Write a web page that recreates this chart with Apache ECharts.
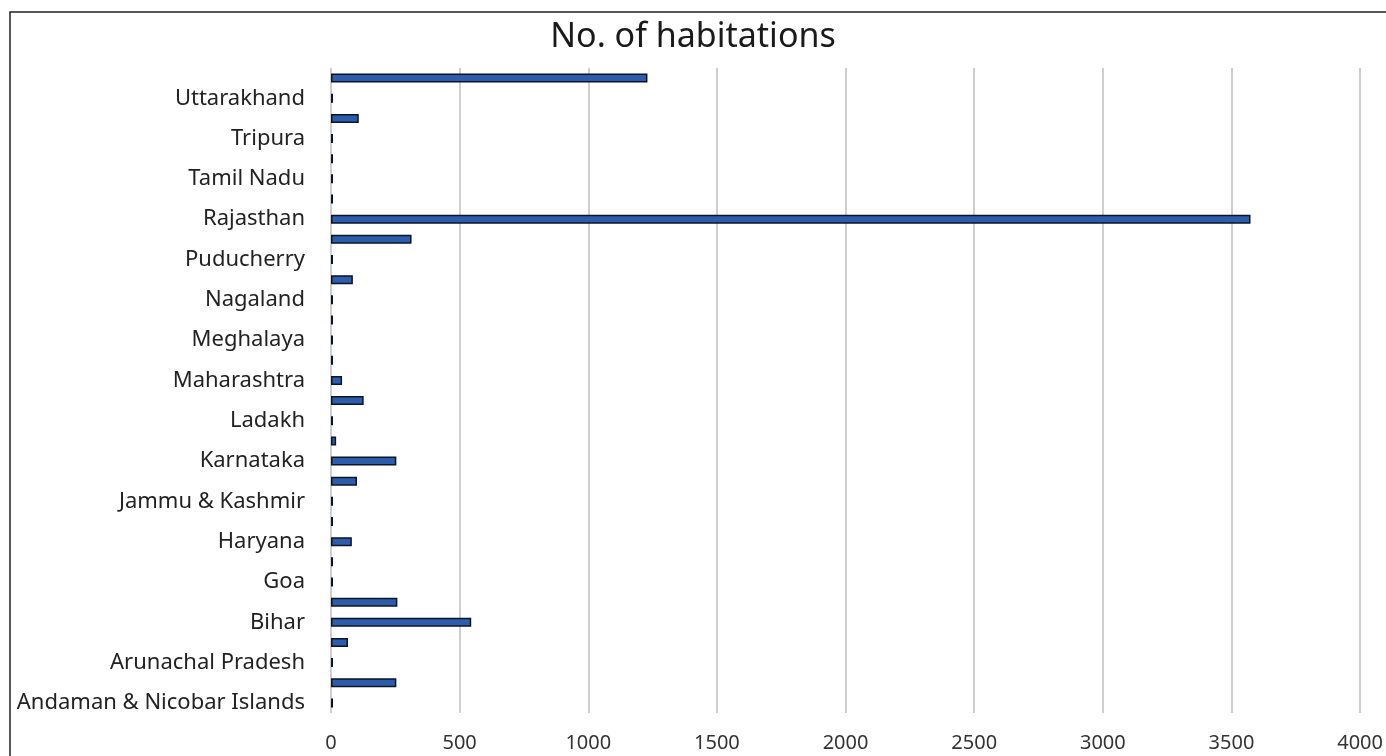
<!DOCTYPE html>
<html>
<head>
<meta charset="utf-8">
<script src="https://cdn.jsdelivr.net/npm/echarts@6/dist/echarts.min.js"></script>
<style>
  html, body { margin: 0; padding: 0; background: #fff; }
  #main { width: 1386px; height: 756px; }
</style>
</head>
<body>
<div id="main"></div>
<script>
// states / UTs, bottom to top
var states = [
  'Andaman & Nicobar Islands', 'Andhra Pradesh', 'Arunachal Pradesh', 'Assam',
  'Bihar', 'Chhattisgarh', 'Goa', 'Gujarat', 'Haryana', 'Himachal Pradesh',
  'Jammu & Kashmir', 'Jharkhand', 'Karnataka', 'Kerala', 'Ladakh',
  'Madhya Pradesh', 'Maharashtra', 'Manipur', 'Meghalaya', 'Mizoram',
  'Nagaland', 'Odisha', 'Puducherry', 'Punjab', 'Rajasthan', 'Sikkim',
  'Tamil Nadu', 'Telangana', 'Tripura', 'Uttar Pradesh', 'Uttarakhand',
  'West Bengal'
];
var habitations = [
  0, 254, 0, 66,
  545, 258, 0, 0, 81, 0,
  0, 101, 254, 20, 0,
  127, 43, 0, 0, 0,
  0, 85, 0, 313, 3574, 0,
  0, 0, 0, 108, 0,
  1230
];
var xTicks = [0, 500, 1000, 1500, 2000, 2500, 3000, 3500, 4000];

var myChart = echarts.init(document.getElementById('main'));
var font = "'Noto Sans', sans-serif";

var option = {
  backgroundColor: '#fff',
  title: {
    text: 'No. of habitations',
    left: 'center',
    top: 15,
    textStyle: { fontFamily: font, fontSize: 34, fontWeight: 'normal', color: '#1a1a1a' }
  },
  graphic: [
    {
      type: 'rect',
      shape: { x: 10, y: 12, width: 1400, height: 800 },
      style: { fill: 'none', stroke: '#222', lineWidth: 1.5 },
      silent: true
    }
  ],
  grid: { left: 331, right: 19, top: 68, bottom: 43 },
  xAxis: {
    type: 'value',
    min: 0,
    max: 4000,
    interval: 500,
    axisLine: { show: false },
    axisTick: { show: false },
    axisLabel: {
      margin: 20,
      fontFamily: font,
      fontSize: 20,
      color: '#333',
      formatter: function (v) { return xTicks.indexOf(v) >= 0 ? String(v) : ''; }
    },
    splitLine: { show: true, lineStyle: { color: '#cfcfcf', width: 2 } }
  },
  yAxis: {
    type: 'category',
    data: states,
    axisLine: { show: false },
    axisTick: { show: false },
    axisLabel: {
      interval: 1,
      margin: 26,
      fontFamily: font,
      fontSize: 22,
      color: '#222'
    }
  },
  series: [
    {
      type: 'bar',
      data: habitations,
      barWidth: 9,
      barMinHeight: 2,
      itemStyle: {
        color: '#2c5cab',
        borderColor: '#0c1526',
        borderWidth: 1.5
      }
    }
  ]
};
myChart.setOption(option);
</script>
</body>
</html>
